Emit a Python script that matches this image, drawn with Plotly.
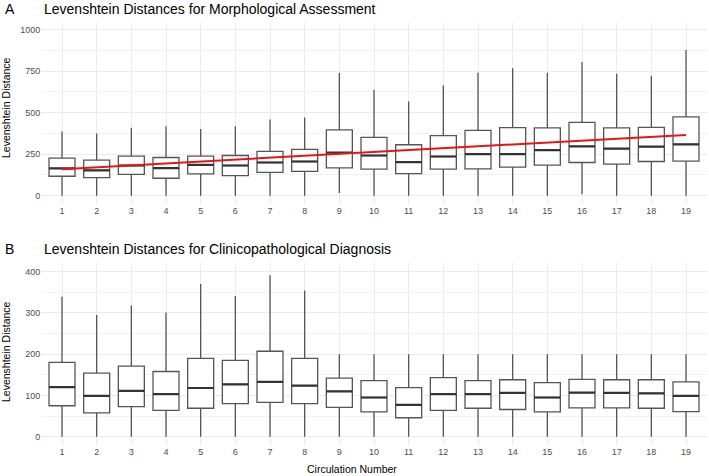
import plotly.graph_objects as go

W, H = 709, 476

circulation = list(range(1, 20))

# Panel A: Morphological Assessment
a_q1 = [117, 109, 129, 105, 131, 121, 141, 147, 168, 160, 133, 160, 162, 172, 184, 200, 190, 206, 208]
a_median = [164, 152, 182, 166, 186, 182, 200, 206, 259, 242, 202, 236, 250, 250, 275, 297, 283, 295, 309]
a_q3 = [226, 214, 238, 230, 238, 242, 267, 279, 396, 351, 307, 362, 394, 410, 408, 442, 408, 412, 475]
a_low = [0, 0, 0, 0, 0, 0, 0, 0, 16, 0, 0, 0, 0, 0, 0, 8, 0, 0, 0]
a_high = [386, 374, 410, 418, 402, 418, 459, 471, 739, 638, 568, 665, 741, 768, 741, 806, 735, 723, 877]
a_trend_x = [1, 19]
a_trend_y = [160, 366]

# Panel B: Clinicopathological Diagnosis
b_q1 = [75, 58, 73, 64, 69, 80, 83, 80, 71, 60, 46, 64, 69, 66, 60, 70, 70, 69, 61]
b_median = [120, 99, 111, 103, 118, 127, 133, 124, 110, 95, 77, 103, 103, 106, 95, 107, 106, 105, 99]
b_q3 = [180, 154, 171, 158, 190, 185, 207, 190, 142, 136, 119, 143, 136, 138, 131, 139, 138, 138, 133]
b_low = [0] * 19
b_high = [339, 295, 318, 301, 370, 341, 391, 354, 200, 200, 200, 200, 200, 200, 200, 200, 200, 200, 200]

titles = ["Levenshtein Distances for Morphological Assessment",
          "Levenshtein Distances for Clinicopathological Diagnosis"]
tags = ["A", "B"]

FONT = "Liberation Sans"
BOX_LINE = "#555555"
MED_LINE = "#333333"
GRID = "#ebebeb"
BOXW = 0.75


def py(p):
    return 1 - p / H


def px(p):
    return p / W


fig = go.Figure()


def add_panel(xa, ya, q1, med, q3, lo, hi):
    fig.add_trace(go.Box(
        x=circulation, q1=q1, median=med, q3=q3, lowerfence=lo, upperfence=hi,
        width=BOXW, whiskerwidth=0, fillcolor="white",
        line=dict(color=BOX_LINE, width=1.3), boxpoints=False,
        xaxis=xa, yaxis=ya, showlegend=False, hoverinfo="skip"))
    mx, my = [], []
    for c, m in zip(circulation, med):
        mx += [c - BOXW / 2, c + BOXW / 2, None]
        my += [m, m, None]
    fig.add_trace(go.Scatter(x=mx, y=my, mode="lines",
                             line=dict(color=MED_LINE, width=2.2),
                             xaxis=xa, yaxis=ya, showlegend=False, hoverinfo="skip"))


add_panel("x", "y", a_q1, a_median, a_q3, a_low, a_high)
fig.add_trace(go.Scatter(x=a_trend_x, y=a_trend_y, mode="lines",
                         line=dict(color="#e8141c", width=2),
                         xaxis="x", yaxis="y", showlegend=False, hoverinfo="skip"))
add_panel("x2", "y2", b_q1, b_median, b_q3, b_low, b_high)

xdom = [px(41.2), px(706.8)]
xcommon = dict(range=[0.4, 19.6], tickvals=circulation, ticktext=[str(c) for c in circulation],
               showgrid=True, gridcolor=GRID, gridwidth=1, zeroline=False, showline=False,
               ticks="", tickfont=dict(family=FONT, size=9, color="#4d4d4d"), domain=xdom)
ycommon = dict(showgrid=True, gridcolor=GRID, gridwidth=1, zeroline=False, showline=False,
               ticks="", tickfont=dict(family=FONT, size=9, color="#4d4d4d"))

fig.update_layout(
    width=W, height=H, margin=dict(l=0, r=0, t=0, b=0),
    paper_bgcolor="white", plot_bgcolor="white",
    xaxis=dict(**xcommon, anchor="y"),
    yaxis=dict(**ycommon, anchor="x", range=[-50, 1042], tickvals=[0, 250, 500, 750, 1000],
               minor=dict(dtick=125, tick0=0, showgrid=True, gridcolor="#f2f2f2", gridwidth=0.6),
               domain=[py(204), py(22.7)]),
    xaxis2=dict(**xcommon, anchor="y2"),
    yaxis2=dict(**ycommon, anchor="x2", range=[-20, 420], tickvals=[0, 100, 200, 300, 400],
                minor=dict(dtick=50, tick0=0, showgrid=True, gridcolor="#f2f2f2", gridwidth=0.6),
                domain=[py(445), py(263.3)]),
    showlegend=False,
)

ann = []
for tag, title, ty in zip(tags, titles, [9, 249]):
    ann.append(dict(text=tag, x=px(2.5), y=py(ty), xref="paper", yref="paper",
                    xanchor="left", yanchor="middle", showarrow=False,
                    font=dict(family=FONT, size=14, color="black")))
    ann.append(dict(text=title, x=px(41.5), y=py(ty), xref="paper", yref="paper",
                    xanchor="left", yanchor="middle", showarrow=False,
                    font=dict(family=FONT, size=14, color="black")))
for cy in [108, 352]:
    ann.append(dict(text="Levenshtein Distance", x=px(6), y=py(cy), xref="paper", yref="paper",
                    xanchor="center", yanchor="middle", textangle=-90, showarrow=False,
                    font=dict(family=FONT, size=10.5, color="black")))
ann.append(dict(text="Circulation Number", x=px(352), y=py(469), xref="paper", yref="paper",
                xanchor="center", yanchor="middle", showarrow=False,
                font=dict(family=FONT, size=10.5, color="black")))
fig.update_layout(annotations=ann)

fig.write_html("out.html")
